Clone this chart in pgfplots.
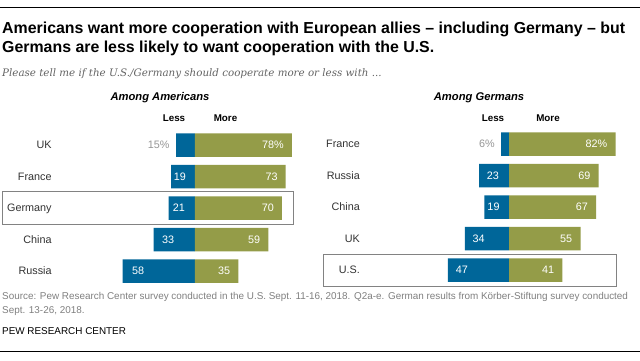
\documentclass[border=0pt]{standalone}
\usepackage{pgfplots}
\pgfplotsset{compat=1.18}
\usepackage{fontspec}
\setmainfont{Liberation Sans}
\newfontfamily\subfont{DejaVu Serif}
\definecolor{pewblue}{RGB}{0,102,153}
\definecolor{pewgreen}{RGB}{148,156,72}
\definecolor{lightlbl}{RGB}{150,150,150}
\definecolor{boxgray}{RGB}{130,130,130}
\definecolor{srcgray}{RGB}{128,128,128}
\definecolor{subgray}{RGB}{100,100,100}
\definecolor{catc}{RGB}{51,51,51}
\newcommand\lbl{\fontsize{10.8}{12}\selectfont}
\pgfplotsset{
  panel/.style={scale only axis, height=157.5pt, ymin=-0.5, ymax=4.5, y dir=reverse,
    clip=false, axis line style={draw=none}, major tick length=0pt, xtick=\empty,
    ytick={0,1,2,3,4},
    yticklabel style={anchor=base east, inner sep=0pt, yshift=-3.8pt, font=\lbl, text=catc}},
  barL/.style={xbar, bar width=23.5pt, bar shift=0pt, draw=none, fill=pewblue},
  barM/.style={xbar, bar width=23.5pt, bar shift=0pt, draw=none, fill=pewgreen},
  labW/.style={draw=none, mark=none, nodes near coords, point meta=explicit symbolic,
    nodes near coords style={anchor=base west, inner sep=0pt, yshift=-3.8pt, text=white, font=\lbl}},
  labG/.style={draw=none, mark=none, nodes near coords, point meta=explicit symbolic,
    nodes near coords style={anchor=base east, inner sep=0pt, yshift=-3.8pt, text=lightlbl, font=\lbl}},
  labE/.style={draw=none, mark=none, nodes near coords, point meta=explicit symbolic,
    nodes near coords style={anchor=base east, inner sep=0pt, yshift=-3.8pt, text=white, font=\lbl}},
}
\begin{document}
\begin{tikzpicture}
\useasboundingbox (0,0) rectangle (640pt,360pt);
\fill[white] (0,0) rectangle (640pt,360pt);
\draw[black, line width=1pt] (0,352.7pt) -- (640pt,352.7pt);
\draw[black, line width=1pt] (0,9pt) -- (640pt,9pt);
\node[anchor=base west, inner sep=0pt, font=\fontsize{15.9}{19}\selectfont\bfseries] at (2pt,327pt) {Americans want more cooperation with European allies -- including Germany -- but};
\node[anchor=base west, inner sep=0pt, font=\fontsize{15.9}{19}\selectfont\bfseries] at (2pt,308pt) {Germans are less likely to want cooperation with the U.S.};
\node[anchor=base west, inner sep=0pt, text=subgray, font=\subfont\itshape\fontsize{10.3}{12}\selectfont] at (2pt,284pt) {Please tell me if the U.S./Germany should cooperate more or less with ...};
\node[anchor=base, inner sep=0pt, font=\fontsize{11.2}{12}\selectfont\bfseries\itshape] at (160pt,259.7pt) {Among Americans};
\node[anchor=base, inner sep=0pt, font=\fontsize{11.2}{12}\selectfont\bfseries\itshape] at (479pt,259.7pt) {Among Germans};
\node[anchor=base, inner sep=0pt, font=\fontsize{9.8}{12}\selectfont\bfseries] at (174pt,238.7pt) {Less};
\node[anchor=base, inner sep=0pt, font=\fontsize{9.8}{12}\selectfont\bfseries] at (225.5pt,238.7pt) {More};
\node[anchor=base, inner sep=0pt, font=\fontsize{9.8}{12}\selectfont\bfseries] at (493pt,238.7pt) {Less};
\node[anchor=base, inner sep=0pt, font=\fontsize{9.8}{12}\selectfont\bfseries] at (548pt,238.7pt) {More};
\node[anchor=base west, inner sep=0pt, text=srcgray, font=\fontsize{9.9}{12}\selectfont] at (2pt,60.5pt) {Source: Pew Research Center survey conducted in the U.S. Sept. 11-16, 2018. Q2a-e. German results from Körber-Stiftung survey conducted};
\node[anchor=base west, inner sep=0pt, text=srcgray, font=\fontsize{9.9}{12}\selectfont] at (2pt,46.5pt) {Sept. 13-26, 2018.};
\node[anchor=base west, inner sep=0pt, text=black, font=\fontsize{9.9}{12}\selectfont] at (2pt,25.5pt) {PEW RESEARCH CENTER};

% Left panel: Among Americans
\begin{axis}[panel, at={(51.8pt,73.25pt)}, anchor=south west, width=242.6pt,
  xmin=-114.86, xmax=80, yticklabels={UK,France,Germany,China,Russia}]
\addplot[barL] coordinates {(-15,0) (-19,1) (-21,2) (-33,3) (-58,4)};
\addplot[barM] coordinates {(78,0) (73,1) (70,2) (59,3) (35,4)};
\draw[boxgray, line width=0.8pt] (axis cs:-154.2,1.46) rectangle (axis cs:79.2,2.51);
\addplot[labG] coordinates {(-20.1,0) [15\%]};
\addplot[labW] coordinates {(-16.9,1) [19] (-17.7,2) [21] (-26.5,3) [33] (-50.6,4) [58]};
\addplot[labE] coordinates {(71.6,0) [78\%] (66.6,1) [73] (63.6,2) [70] (52.6,3) [59] (28.6,4) [35]};
\end{axis}

% Right panel: Among Germans
\begin{axis}[panel, at={(360pt,74.25pt)}, anchor=south west, width=256.9pt,
  xmin=-114.62, xmax=83, yticklabels={France,Russia,China,UK,U.S.}]
\addplot[barL] coordinates {(-6,0) (-23,1) (-19,2) (-34,3) (-47,4)};
\addplot[barM] coordinates {(82,0) (69,1) (67,2) (55,3) (41,4)};
\draw[boxgray, line width=0.8pt] (axis cs:-143.1,3.49) rectangle (axis cs:82.3,4.51);
\addplot[labG] coordinates {(-10.8,0) [6\%]};
\addplot[labW] coordinates {(-17.2,1) [23] (-16.7,2) [19] (-28.2,3) [34] (-41,4) [47]};
\addplot[labE] coordinates {(75.8,0) [82\%] (62.8,1) [69] (60.8,2) [67] (48.8,3) [55] (34.8,4) [41]};
\end{axis}
\end{tikzpicture}
\end{document}
